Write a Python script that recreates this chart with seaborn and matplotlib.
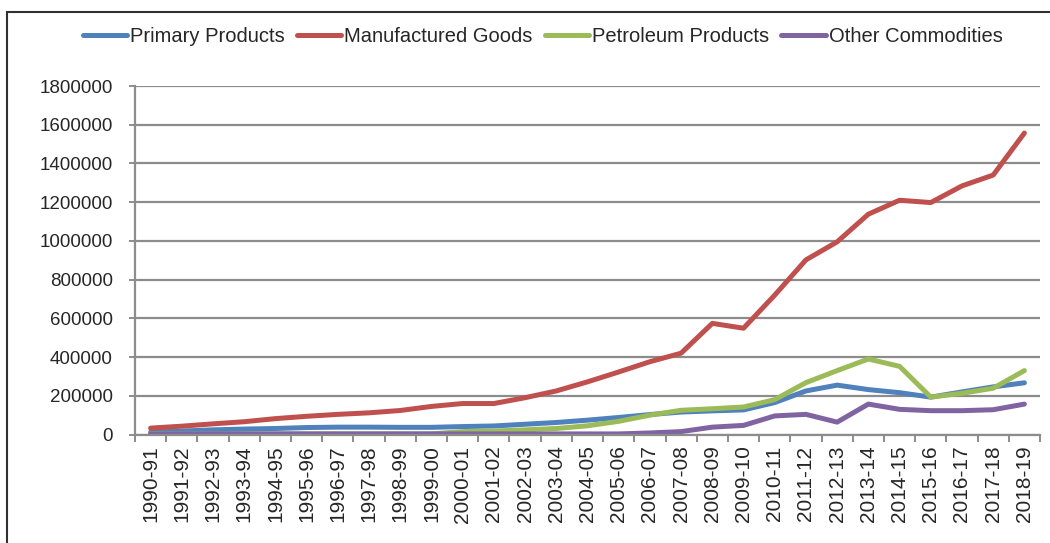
import pandas as pd
import seaborn as sns
import matplotlib
matplotlib.use("Agg")
import matplotlib.pyplot as plt
from matplotlib.patches import Rectangle
from matplotlib.ticker import MultipleLocator, FixedLocator

years = ["1990-91", "1991-92", "1992-93", "1993-94", "1994-95", "1995-96",
         "1996-97", "1997-98", "1998-99", "1999-00", "2000-01", "2001-02",
         "2002-03", "2003-04", "2004-05", "2005-06", "2006-07", "2007-08",
         "2008-09", "2009-10", "2010-11", "2011-12", "2012-13", "2013-14",
         "2014-15", "2015-16", "2016-17", "2017-18", "2018-19"]

primary = [12000, 18000, 24000, 28000, 31000, 36000, 38000, 38000, 37000,
           37000, 41000, 44000, 53000, 62000, 74000, 88000, 103000, 116000,
           122000, 127000, 165000, 225000, 255000, 232000, 216000, 193000,
           220000, 246000, 267000]

manufactured = [33000, 43000, 55000, 66000, 82000, 94000, 104000, 112000,
                124000, 145000, 160000, 160000, 190000, 225000, 272000,
                323000, 376000, 420000, 574000, 549000, 720000, 902000,
                995000, 1138000, 1210000, 1198000, 1284000, 1340000, 1557000]

petroleum = [4000, 3000, 3000, 3000, 3000, 3000, 3000, 3000, 3000, 3000,
             15000, 18000, 24000, 31000, 45000, 68000, 100000, 125000,
             133000, 142000, 180000, 268000, 330000, 390000, 352000, 193000,
             213000, 239000, 330000]

other = [3000, 3000, 3000, 3000, 3000, 3000, 3000, 3000, 3000, 3000, 3000,
         3000, 3000, 3000, 3000, 3000, 8000, 15000, 38000, 47000, 96000,
         104000, 64000, 157000, 130000, 123000, 123000, 128000, 157000]

series_names = ["Primary Products", "Manufactured Goods",
                "Petroleum Products", "Other Commodities"]
colors = ["#4F81BD", "#C0504D", "#9BBB59", "#8064A2"]

df = pd.DataFrame({
    "Year": years * 4,
    "Value": primary + manufactured + petroleum + other,
    "Series": [s for s in series_names for _ in years],
})

sns.set_theme(style="white")
plt.rcParams["font.family"] = ["Liberation Sans", "DejaVu Sans"]

fig = plt.figure(figsize=(10.5, 5.43), dpi=100)
ax = fig.add_axes([135 / 1050, 1 - 434.5 / 543, 905 / 1050, 348.5 / 543])

sns.lineplot(data=df, x="Year", y="Value", hue="Series",
             palette=colors, linewidth=3.6, sort=False, ax=ax, legend=True)

ax.set_xlim(-0.5, len(years) - 0.5)
ax.set_ylim(0, 1800000)
ax.yaxis.set_major_locator(MultipleLocator(200000))
ax.yaxis.set_major_formatter(matplotlib.ticker.FuncFormatter(lambda v, p: f"{int(v)}"))
ax.grid(axis="y", color="#8c8c8c", linewidth=1.6)
ax.set_axisbelow(True)
ax.set_xlabel("")
ax.set_ylabel("")

# labels sit at the category centres, tick marks between categories
ax.set_xticks(range(len(years)))
ax.set_xticklabels(years, rotation=90, fontsize=15)
ax.tick_params(axis="x", which="major", length=0, pad=8)
ax.xaxis.set_minor_locator(FixedLocator([i - 0.5 for i in range(len(years) + 1)]))
ax.tick_params(axis="x", which="minor", length=5, width=1.4, color="#8c8c8c",
               direction="out", bottom=True)
ax.tick_params(axis="y", length=4, width=1.4, color="#8c8c8c",
               direction="out", left=True, labelsize=13.5, pad=12)

for side in ["top", "right"]:
    ax.spines[side].set_visible(False)
for side in ["left", "bottom"]:
    ax.spines[side].set_color("#8c8c8c")
    ax.spines[side].set_linewidth(1.6)

handles, labels = ax.get_legend_handles_labels()
ax.get_legend().remove()
fig.legend(handles, labels, loc="center", bbox_to_anchor=(0.517, 0.932),
           ncol=4, frameon=False, fontsize=14.5, handlelength=2.2,
           handletextpad=0.15, columnspacing=0.6, borderaxespad=0)

fig.patches.append(Rectangle((7 / 1050, -0.1), 1.2, 1.1 - 12 / 543,
                             transform=fig.transFigure, fill=False,
                             edgecolor="#303030", linewidth=1.5))

fig.savefig("out.png", dpi=100)
